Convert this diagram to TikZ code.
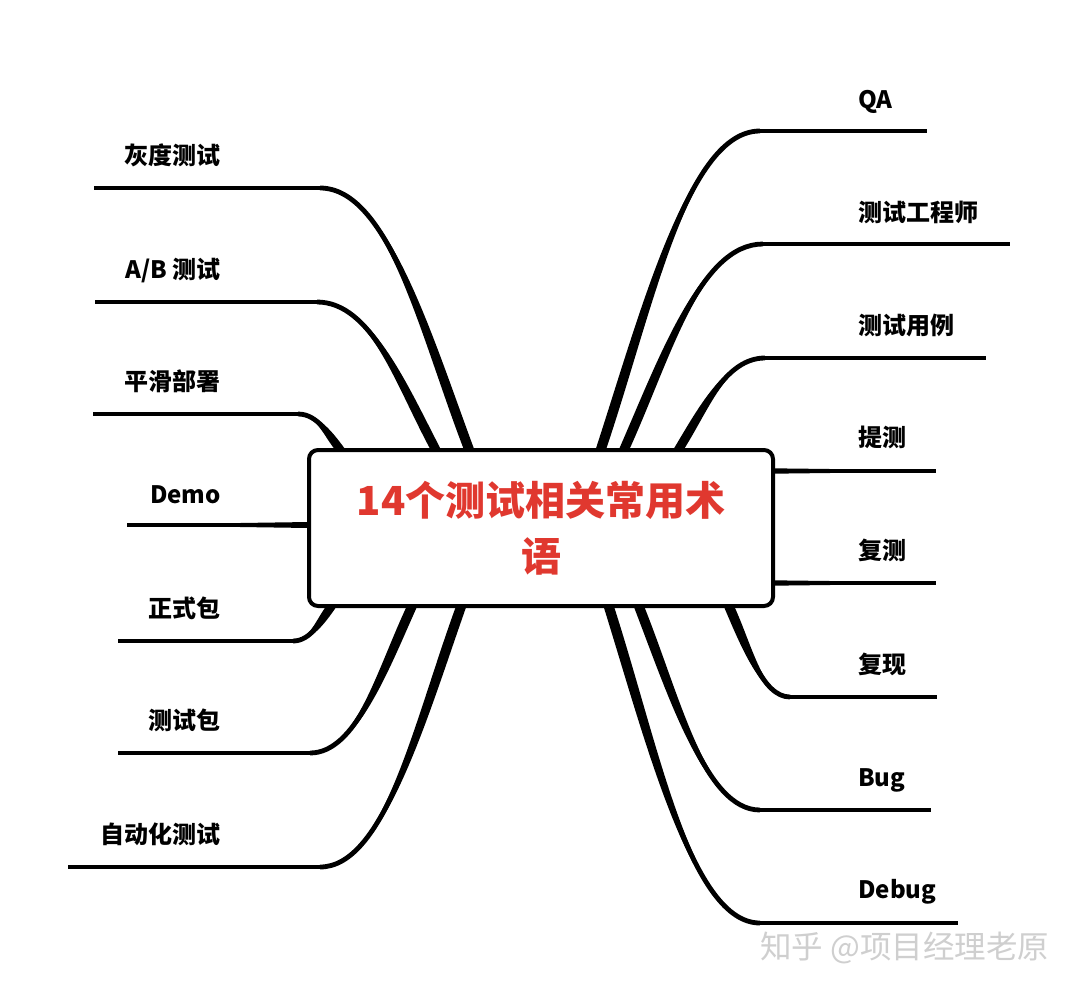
\documentclass[tikz,border=0pt]{standalone}
\usepackage{fontspec}
\setmainfont{Noto Sans CJK SC}
\usetikzlibrary{calc}
\definecolor{titlered}{HTML}{E0382F}
\definecolor{wmgray}{HTML}{CFCFCF}
\tikzset{
  hline/.style={line width=4, line cap=butt, black},
  cline/.style={line width=4.8, line cap=butt, black},
  lbl/.style={inner sep=0, font=\fontsize{24}{27}\selectfont\bfseries},
  rootbox/.style={draw=black, fill=white, line width=4, rounded corners=9,
    minimum width=464, minimum height=156},
}
% #1 name, #2 bx, #3 by, #4 jx, #5 jy, #6 ex, #7 sign
\newcommand\mmbranch[7]{%
  \coordinate (#1-b) at (#2,#3);
  \coordinate (#1-j) at (#4,#5);
  \coordinate (#1-e) at (#6,#5);
  \pgfmathsetmacro\pax{#2+0.3*(#4-#2)}%
  \pgfmathsetmacro\pay{#3+0.45*(#5-#3)}%
  \pgfmathsetmacro\pbx{#4+0.45*(#2-#4)}%
  \pgfmathsetmacro\bxa{#2-5.2}%
  \pgfmathsetmacro\bxb{#2+5.2}%
  \pgfmathsetmacro\paxa{\pax-6}%
  \pgfmathsetmacro\paxb{\pax+6}%
  \pgfmathsetmacro\jya{#5+(#7)*2.5}%
  \pgfmathsetmacro\jyb{#5-(#7)*2.5}%
  \fill[black] (\bxa,#3) .. controls (\paxa,\pay) and (\pbx,\jya) .. (#4,#5)
     .. controls (\pbx,\jyb) and (\paxb,\pay) .. (\bxb,#3) -- cycle;
  \draw[cline] (#1-b) .. controls (\pax,\pay) and (\pbx,#5) .. (#1-j);
  \draw[hline] (#1-j) -- (#1-e);
}
\begin{document}
\begin{tikzpicture}[x=1pt,y=-1pt]
\useasboundingbox (0,0) rectangle (1080,994);
\fill[white] (0,0) rectangle (1080,994);

% left side
\mmbranch{l1}{470}{452}{320}{188}{94}{1}
\mmbranch{l2}{437}{452}{317}{302}{95}{1}
\mmbranch{l3}{342}{452}{298}{414}{93}{1}
\mmbranch{l5}{333}{604}{293}{641}{118}{-1}
\mmbranch{l6}{413}{604}{310}{753}{118}{-1}
\mmbranch{l7}{462}{604}{320}{867}{68}{-1}
\coordinate (l4-e) at (127,525);
\coordinate (l4-b) at (309,525);
\draw[hline] (l4-e) -- (l4-b);
\fill[black] (240,523) -- (309,522) -- (309,528) -- (240,527) -- cycle;

% right side
\mmbranch{r1}{600}{452}{760}{131}{927}{-1}
\mmbranch{r2}{623}{452}{763}{244}{1010}{-1}
\mmbranch{r3}{677}{452}{765}{358}{986}{-1}
\mmbranch{r6}{728}{604}{790}{697}{937}{1}
\mmbranch{r7}{638}{604}{760}{810}{931}{1}
\mmbranch{r8}{608}{604}{760}{923}{958}{1}
\coordinate (r4-b) at (771,471);
\coordinate (r4-e) at (936,471);
\coordinate (r5-b) at (771,583);
\coordinate (r5-e) at (936,583);
\draw[hline] (r4-b) -- (r4-e);
\draw[hline] (r5-b) -- (r5-e);
\fill[black] (771,468.3) -- (830,469) -- (830,473) -- (771,473.7) -- cycle;
\fill[black] (771,580.3) -- (830,581) -- (830,585) -- (771,585.7) -- cycle;

% central box
\node[rootbox] (root) at (541,528) {};
\node[inner sep=0, align=center, text=titlered,
      font=\fontsize{40}{56}\selectfont\bfseries] (title) at (541,528)
  {14个测试相关常用术\\语};

% left labels
\node[lbl, anchor=base east] (t1) at (221,164) {灰度测试};
\node[lbl, anchor=base east] (t2) at (221,278) {A/B 测试};
\node[lbl, anchor=base east] (t3) at (221,390) {平滑部署};
\node[lbl, anchor=base east] (t4) at (221,503) {Demo};
\node[lbl, anchor=base east] (t5) at (221,617) {正式包};
\node[lbl, anchor=base east] (t6) at (221,729) {测试包};
\node[lbl, anchor=base east] (t7) at (221,843) {自动化测试};

% right labels
\node[lbl, anchor=base west] (s1) at (858,108) {QA};
\node[lbl, anchor=base west] (s2) at (858,221) {测试工程师};
\node[lbl, anchor=base west] (s3) at (858,334) {测试用例};
\node[lbl, anchor=base west] (s4) at (858,446) {提测};
\node[lbl, anchor=base west] (s5) at (858,559) {复测};
\node[lbl, anchor=base west] (s6) at (858,673) {复现};
\node[lbl, anchor=base west] (s7) at (858,786) {Bug};
\node[lbl, anchor=base west] (s8) at (858,898) {Debug};

% watermark
\node[inner sep=0, anchor=base west, text=wmgray,
      font=\fontsize{31.5}{34}\selectfont] (wm) at (760,958) {知乎 @项目经理老原};
\end{tikzpicture}
\end{document}
